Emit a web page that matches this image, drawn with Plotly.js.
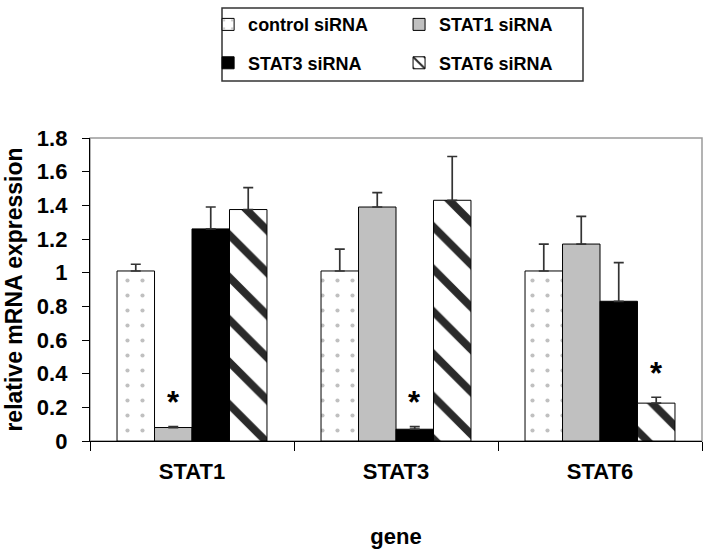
<!DOCTYPE html>
<html>
<head>
<meta charset="utf-8">
<script src="https://cdn.plot.ly/plotly-3.0.1.min.js"></script>
<style>html,body{margin:0;padding:0;background:#fff;}#chart{width:708px;height:554px;}</style>
</head>
<body>
<div id="chart"></div>
<script>
// ---- data ----
const genes = ["STAT1", "STAT3", "STAT6"];
const seriesNames = ["control siRNA", "STAT1 siRNA", "STAT3 siRNA", "STAT6 siRNA"];
const controlVals = [1.01, 1.01, 1.01];
const controlErr  = [0.04, 0.13, 0.16];
const stat1Vals   = [0.08, 1.39, 1.17];
const stat1Err    = [0.005, 0.085, 0.165];
const stat3Vals   = [1.26, 0.07, 0.83];
const stat3Err    = [0.13, 0.015, 0.23];
const stat6Vals   = [1.375, 1.43, 0.225];
const stat6Err    = [0.13, 0.26, 0.035];
// significance marks (series index per gene)
const sigSeries = [1, 2, 3];
const sigLabel = "*";

const FONT = "Liberation Sans, Arial, sans-serif";
const vals = [controlVals, stat1Vals, stat3Vals, stat6Vals];
const errs = [controlErr, stat1Err, stat3Err, stat6Err];
const styles = [
  {color: "white", pattern: {shape: ".", fgcolor: "#c0c0c0", bgcolor: "white", fgopacity: 1, size: 15, solidity: 0.06, fillmode: "overlay"}},
  {color: "#c0c0c0"},
  {color: "#000000"},
  {color: "white", pattern: {shape: "\\", fgcolor: "#2a2a2a", bgcolor: "white", fgopacity: 1, size: 30, solidity: 0.26, fillmode: "overlay"}}
];
const legendFor = ["legend", "legend2", "legend", "legend2"];

const traces = seriesNames.map((name, i) => {
  const m = Object.assign({line: {color: "#000", width: 1}}, styles[i]);
  return {
    type: "bar",
    name: name,
    x: genes,
    y: vals[i],
    marker: m,
    legend: legendFor[i],
    legendgroup: "g" + i,
    error_y: {type: "data", array: errs[i], arrayminus: errs[i].map(() => 0), symmetric: false,
              color: "#333333", thickness: 1.7, width: 5},
    hoverinfo: "skip"
  };
});

// layout geometry
const W = 708, H = 554;
const margin = {l: 90, r: 6, t: 138, b: 113};
const plotW = W - margin.l - margin.r;
const plotH = H - margin.t - margin.b;
const bargap = 0.265;
const barPx = plotW / genes.length * (1 - bargap) / seriesNames.length;

const annotations = genes.map((g, gi) => {
  const si = sigSeries[gi];
  return {
    x: g, xref: "x", y: vals[si][gi] + errs[si][gi], yref: "y",
    text: sigLabel, showarrow: false,
    xshift: (si - (seriesNames.length - 1) / 2) * barPx,
    yshift: 24, yanchor: "middle",
    font: {family: FONT, size: 31, color: "#000", weight: "bold"}
  };
});

const legendCommon = {
  orientation: "v", xanchor: "left", yanchor: "top", y: 1.435,
  bgcolor: "rgba(0,0,0,0)", borderwidth: 0, tracegroupgap: 12,
  font: {family: FONT, size: 18, color: "#000", weight: "bold"},
  itemclick: false, itemdoubleclick: false
};

const layout = {
  width: W, height: H,
  margin: margin,
  paper_bgcolor: "#fff", plot_bgcolor: "#fff",
  barmode: "group", bargap: bargap, bargroupgap: 0,
  font: {family: FONT, color: "#000"},
  showlegend: true,
  legend: Object.assign({}, legendCommon, {x: 0.193}),
  legend2: Object.assign({}, legendCommon, {x: 0.505}),
  xaxis: {
    type: "category", range: [-0.5, 2.5],
    showline: true, linecolor: "#000", linewidth: 1.2,
    ticks: "outside", tickson: "boundaries", ticklen: 9, tickcolor: "#000", tickwidth: 1,
    ticklabelstandoff: 10,
    tickfont: {family: FONT, size: 22, color: "#000", weight: "bold"},
    showgrid: false, zeroline: false,
    title: {text: "gene", font: {family: FONT, size: 22, color: "#000", weight: "bold"}, standoff: 46},
    automargin: false
  },
  yaxis: {
    range: [0, 1.8], dtick: 0.2, tick0: 0,
    showline: true, linecolor: "#000", linewidth: 1.2,
    ticks: "outside", ticklen: 7, tickcolor: "#000", tickwidth: 1,
    ticklabelstandoff: 10,
    tickfont: {family: FONT, size: 22, color: "#000", weight: "bold"},
    showgrid: false, zeroline: false,
    title: {text: "relative mRNA expression", font: {family: FONT, size: 23, color: "#000", weight: "bold"}, standoff: 7},
    automargin: false
  },
  shapes: [
    {type: "rect", xref: "paper", yref: "paper", x0: 0, x1: 1, y0: 0, y1: 1,
     line: {color: "#9a9a9a", width: 1.5}, layer: "below"},
    {type: "rect", xref: "paper", yref: "paper",
     x0: (222 - margin.l) / plotW, x1: (583 - margin.l) / plotW,
     y0: (H - margin.b - 81) / plotH, y1: (H - margin.b - 8) / plotH,
     line: {color: "#333", width: 1.5}, fillcolor: "rgba(0,0,0,0)", layer: "above"}
  ],
  annotations: annotations
};

Plotly.newPlot("chart", traces, layout, {displayModeBar: false, staticPlot: true});
</script>
</body>
</html>
